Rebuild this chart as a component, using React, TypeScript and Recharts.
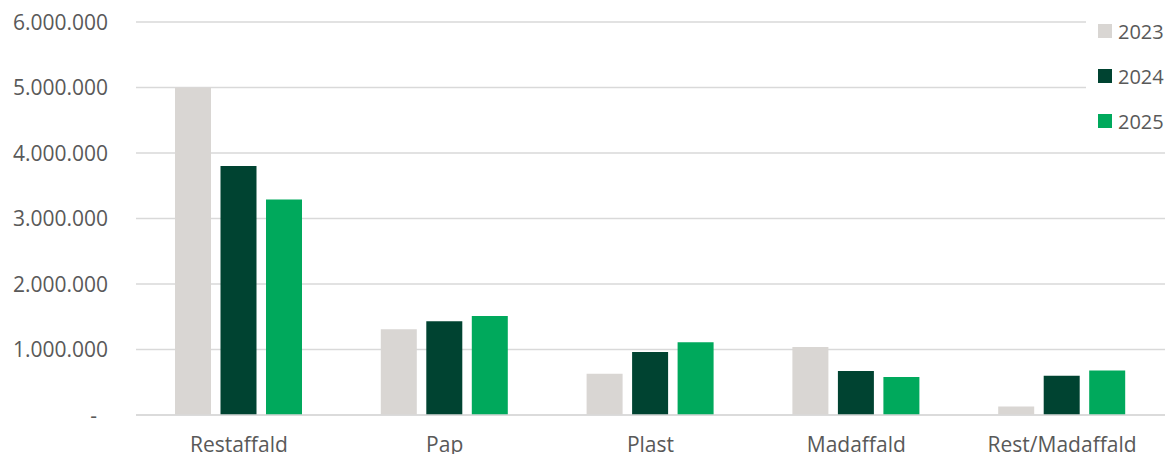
import React from "react";
import { BarChart, Bar, XAxis, YAxis, CartesianGrid, Legend } from "recharts";

const categories = ["Restaffald", "Pap", "Plast", "Madaffald", "Rest/Madaffald"];
const y2023 = [5000000, 1310000, 630000, 1040000, 130000];
const y2024 = [3800000, 1430000, 960000, 670000, 600000];
const y2025 = [3290000, 1510000, 1110000, 580000, 680000];
const yTicks = [0, 1000000, 2000000, 3000000, 4000000, 5000000, 6000000];

const C23 = "#D9D6D3";
const C24 = "#004331";
const C25 = "#00A95C";
const TXT = "#595959";
const FONT = "'Open Sans', sans-serif";

const series = [
  { key: "2023", color: C23 },
  { key: "2024", color: C24 },
  { key: "2025", color: C25 },
];

const data = categories.map((c, i) => ({
  name: c,
  "2023": y2023[i],
  "2024": y2024[i],
  "2025": y2025[i],
}));

const fmt = (v: number) => String(v).replace(/\B(?=(\d{3})+(?!\d))/g, ".");

const YTick = (props: any) => {
  const { x, y, payload } = props;
  const zero = payload.value === 0;
  return (
    <text x={zero ? x - 11 : x} y={y} dy="0.36em" textAnchor="end"
      fill={TXT} fontSize={21} fontFamily={FONT}>
      {zero ? "-" : fmt(payload.value)}
    </text>
  );
};

const LegendBox = () => (
  <div style={{ background: "#fff", width: 81, height: 140, position: "relative" }}>
    {series.map((s, i) => (
      <div key={s.key} style={{ position: "absolute", left: 12, top: 19 + i * 45,
        display: "flex", alignItems: "center", height: 24 }}>
        <span style={{ width: 14, height: 14, background: s.color, display: "inline-block" }} />
        <span style={{ marginLeft: 6, fontSize: 20, color: TXT, fontFamily: FONT }}>{s.key}</span>
      </div>
    ))}
  </div>
);

export default function App() {
  return (
    <div>
      <style>{`body{margin:0}`}</style>
      <BarChart width={1167} height={454} data={data}
        margin={{ top: 22, right: 2, left: 0, bottom: 0 }}
        barSize={36} barGap={9.5}>
        <CartesianGrid vertical={false} stroke="#D9D9D9" strokeWidth={1.5} />
        <XAxis dataKey="name" height={39} tickLine={false} tickSize={0} tickMargin={22}
          axisLine={{ stroke: "#D9D9D9", strokeWidth: 1.5 }}
          tick={{ fill: TXT, fontSize: 21, fontFamily: FONT }} />
        <YAxis width={136} domain={[0, 6000000]} ticks={yTicks} interval={0}
          axisLine={false} tickLine={false} tickSize={0} tickMargin={28} tick={<YTick />} />
        <Legend layout="horizontal" align="center" verticalAlign="middle"
          wrapperStyle={{ left: 1086, top: 0, width: 81, height: 140 }}
          content={() => <LegendBox />} />
        {series.map(s => (
          <Bar key={s.key} dataKey={s.key} fill={s.color} isAnimationActive={false} />
        ))}
      </BarChart>
    </div>
  );
}
